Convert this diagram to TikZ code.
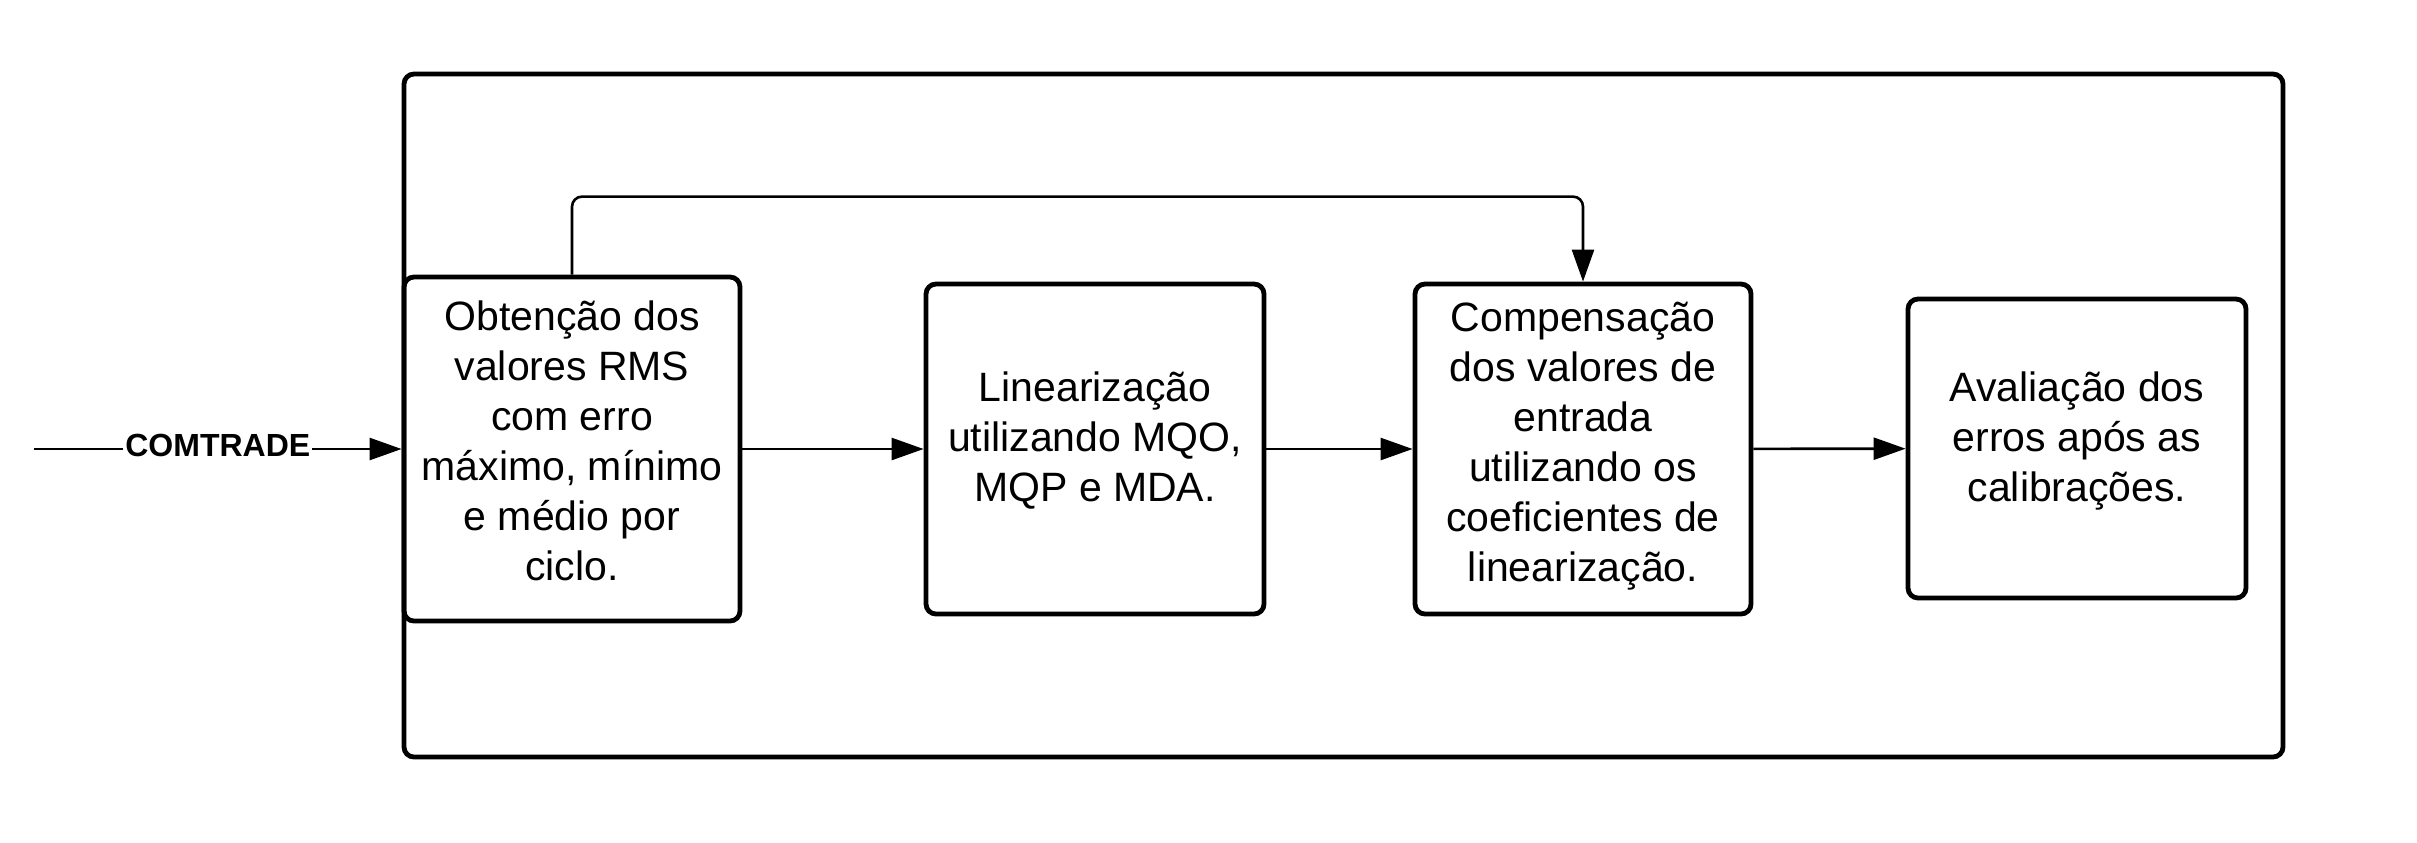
\documentclass[tikz,border=0pt]{standalone}
\usepackage{fontspec}
\setmainfont{Liberation Sans}
\usetikzlibrary{arrows.meta}
\begin{document}
\begin{tikzpicture}[x=0.5pt,y=-0.5pt,
  blk/.style={draw,line width=2.4pt,rounded corners=5pt,inner sep=0pt},
  txt/.style={align=center,inner sep=0pt,font=\fontsize{20.5}{25}\selectfont},
  conn/.style={line width=1.3pt,-{Triangle[length=16pt,width=11pt]}},
  outer/.style={draw,line width=2.4pt,rounded corners=5pt}]
\useasboundingbox (0,0) rectangle (2417,842);
\draw[outer] (404,74) rectangle (2283,757);
\node[blk,minimum width=168pt,minimum height=172pt] (b1) at (572,449) {};
\node[blk,minimum width=169pt,minimum height=165pt] (b2) at (1095,449) {};
\node[blk,minimum width=168pt,minimum height=165pt] (b3) at (1583,449) {};
\node[blk,minimum width=169pt,minimum height=149.5pt] (b4) at (2077,448.5) {};
\node[txt] (t1) at ([yshift=4pt]b1.center)
  {Obtenção dos\\valores RMS\\com erro\\máximo, mínimo\\e médio por\\ciclo.};
\node[txt] (t2) at ([yshift=4pt]b2.center)
  {Linearização\\utilizando MQO,\\MQP e MDA.};
\node[txt] (t3) at ([yshift=1.5pt]b3.center)
  {Compensação\\dos valores de\\entrada\\utilizando os\\coeficientes de\\linearização.};
\node[txt] (t4) at ([yshift=4pt]b4.center)
  {Avaliação dos\\erros após as\\calibrações.};
\coordinate (in) at (34,449);
\draw[conn] (in) -- node[fill=white,inner sep=1pt,font=\fontsize{16}{18}\bfseries\selectfont,yshift=2pt] (ct) {COMTRADE} (b1.west);
\draw[conn] (b1) -- (b2);
\draw[conn] (b2) -- (b3);
\draw[conn] (b3) -- (b4);
\draw[conn,rounded corners=5pt] (b1.north) -- ++(0,-78) -| (b3.north);
\end{tikzpicture}
\end{document}
